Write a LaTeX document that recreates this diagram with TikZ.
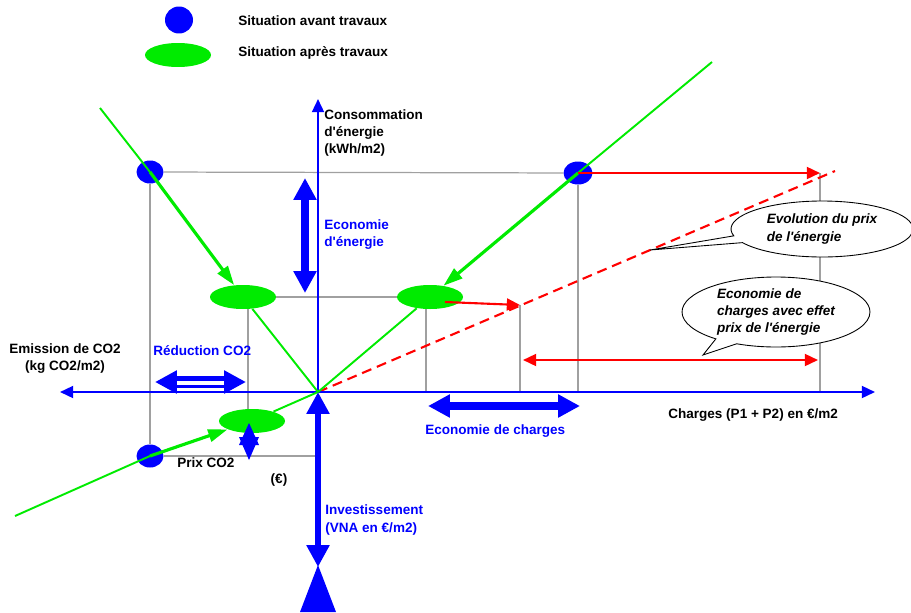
\documentclass[tikz,border=0pt]{standalone}
\usepackage{fontspec}
\setmainfont{Liberation Sans}
\usetikzlibrary{positioning}
\usetikzlibrary{shapes.geometric, shapes.callouts, arrows.meta}
\definecolor{vert}{RGB}{0,235,0}
\definecolor{trait}{RGB}{160,160,160}
\tikzstyle{bigarrow} = [blue, line width=4pt, {Triangle[length=12.5pt,width=12.5pt]}-{Triangle[length=12.5pt,width=12.5pt]}]

\begin{document}
\begin{tikzpicture}[
  x=0.02cm, y=-0.02cm,
  avant/.style={ellipse, fill=blue, inner sep=0pt, minimum width=0.54cm, minimum height=0.46cm},
  apres/.style={ellipse, fill=vert, inner sep=0pt, minimum width=1.32cm, minimum height=0.48cm},
  txt/.style={font=\fontsize{7.7}{9.7}\selectfont\bfseries, inner sep=0pt, align=left},
  bleu/.style={txt, text=blue},
  guide/.style={trait, line width=0.7pt},
  axe/.style={blue, line width=1.2pt},
  droite/.style={vert, line width=1.1pt},
  fleche/.style={vert, line width=1.8pt, -{Triangle[length=11pt,width=7pt]}},
  rouge/.style={red, line width=1.2pt},
  bulle/.style={ellipse callout, draw=black, fill=white, line width=0.5pt, font=\fontsize{7.7}{9.7}\selectfont\bfseries\itshape, align=left, inner sep=0pt},
  >={Triangle[length=7.5pt,width=6.8pt]}
]
\useasboundingbox (0,0) rectangle (911,612);

\node[avant, minimum width=0.56cm, minimum height=0.54cm] (L1) at (179,20) {};
\node[apres] (L2) at (178,55) {};
\node[txt, anchor=west] (L1t) at (238,21) {Situation avant travaux};
\node[txt, anchor=west] (L2t) at (238,53) {Situation après travaux};

\coordinate (O) at (318,392);
\coordinate (axeG) at (60,392);
\coordinate (axeD) at (875,392);
\coordinate (axeH) at (318,99);
\coordinate (axeB) at (318,567);

\node[avant] (A1) at (150,172) {};
\node[avant, minimum width=0.58cm] (A2) at (578,173) {};
\node[avant] (A3) at (150,456) {};
\node[apres] (B1) at (243,297) {};
\node[apres] (B2) at (430,297) {};
\node[apres] (B3) at (252,421) {};

\coordinate (g1) at (248,309);
\coordinate (g2) at (426,309);
\coordinate (r0) at (445,302);
\coordinate (r1) at (820,173);
\coordinate (r2) at (520,305);
\coordinate (r3) at (523,360);
\coordinate (r4) at (818,360);
\coordinate (pe) at (835,171);

\draw[guide] (A1) -- (A2);
\draw[guide] (A1) -- (A3);
\draw[guide] (A2) -- (A2 |- O);
\draw[guide] (B1) -- (B2);
\draw[guide] (g1) -- (g1 |- B3.north);
\draw[guide] (g2) -- (g2 |- O);
\draw[guide] (r2) -- (r2 |- O);
\draw[guide] (r1) -- (r1 |- O);
\draw[guide] (A3) -- (A3 -| O);

\draw[red, line width=1.2pt, dash pattern=on 5.7pt off 3.4pt] (O) -- (pe);

\draw[axe, <->] (axeG) -- (axeD);
\draw[axe, ->] (O) -- (axeH);

\coordinate (vg) at (100,108);
\coordinate (vd) at (712,62);
\coordinate (vb) at (15,516);
\draw[droite] (vg) -- (A1.center);
\draw[fleche] (A1.center) -- (B1);
\draw[droite] (vd) -- (A2.center);
\draw[fleche] (A2.center) -- (B2);
\draw[droite] (vb) -- (A3.center);
\draw[fleche] (A3.center) -- (B3);
\draw[droite] (B1) -- (O) -- (B2);
\draw[droite] (B3) -- (O);

\coordinate (e1) at (305,178);
\coordinate (e2) at (305,293);
\coordinate (c1a) at (428,406);
\coordinate (c1b) at (580,406);
\coordinate (co1) at (155,382);
\coordinate (co2) at (246,382);
\coordinate (co3) at (177,383);
\coordinate (co4) at (224,383);
\draw[bigarrow] (e1) -- (e2);
\draw[bigarrow] (c1a) -- (c1b);
\draw[bigarrow, line width=7pt] (co1) -- (co2);
\draw[white, line width=2.6pt] (co3) -- (co4);
\draw[bigarrow, line width=3.5pt] (O) -- (axeB);
\fill[blue] (300,612) -- (336,612) -- (318,565) -- cycle;
\fill[blue] (239,445) -- (259,445) -- (249,423) -- cycle;
\fill[blue] (239,437) -- (259,437) -- (249,460) -- cycle;

\draw[rouge, ->] (A2.center) -- (r1);
\draw[rouge, ->] (r0) -- (r2);
\draw[rouge, <->] (r3) -- (r4);

\coordinate (t1) at (650,250);
\coordinate (t2) at (703,355);
\node[bulle, callout absolute pointer={(t1)}, minimum width=3.64cm, minimum height=1.12cm] (c1) at (822,229) {Evolution du prix\\de l\textquotesingle énergie};
\node[bulle, callout absolute pointer={(t2)}, minimum width=3.76cm, minimum height=1.4cm] (c2) at (776,312) {Economie de\\charges avec effet\\prix de l\textquotesingle énergie};

\node[txt, anchor=west] (cons) at (324,133) {Consommation\\d\textquotesingle énergie\\(kWh/m2)};
\node[bleu, anchor=west] (ecoen) at (324,235) {Economie\\d\textquotesingle énergie};
\node[txt, align=center] (emis) at (65,359) {Emission de CO2\\(kg CO2/m2)};
\node[bleu, anchor=west] (redco) at (153,351) {Réduction CO2};
\node[txt, anchor=west] (charges) at (668,415) {Charges (P1 + P2) en €/m2};
\node[bleu, anchor=west] (ecoch) at (425,431) {Economie de charges};
\node[txt, anchor=west] (prix) at (177,463) {Prix CO2};
\node[txt] (eur) at (279,480) {(€)};
\node[bleu, anchor=west] (inv) at (325,520) {Investissement\\(VNA en €/m2)};

\end{tikzpicture}
\end{document}
